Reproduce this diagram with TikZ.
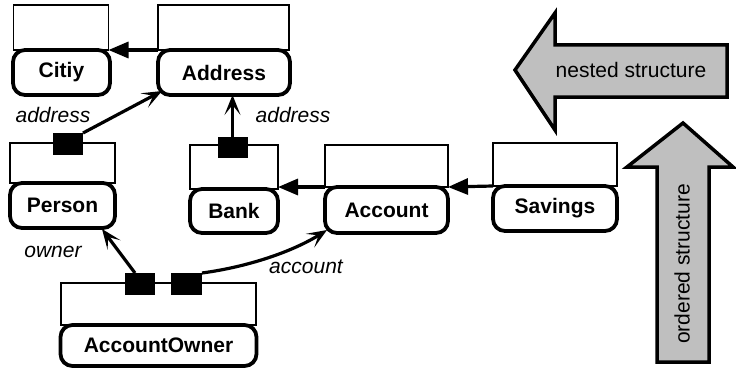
\documentclass[tikz,border=0pt]{standalone}
\usepackage{fontspec}
\setmainfont{Liberation Sans}
\usetikzlibrary{arrows.meta,calc}
\begin{document}
\begin{tikzpicture}[x=1pt,y=-1pt,
  every node/.style={inner sep=0pt,outer sep=0pt},
  slot/.style={draw,line width=1.5pt,fill=white},
  cls/.style={draw,line width=3.8pt,rounded corners=12pt,fill=white,
    font=\fontsize{21}{25}\selectfont\bfseries},
  port/.style={fill=black,minimum width=30pt,minimum height=22pt},
  role/.style={font=\fontsize{21}{25}\selectfont\itshape},
  link/.style={line width=3.2pt},
  inherit/.style={link,-{Triangle[length=20pt,width=16pt]}},
  navto/.style={link,-{Stealth[length=20pt,width=16pt,inset=10pt]}},
  bigarrow/.style={draw,fill=black!25,line width=3.5pt,line join=miter},
  arrowtext/.style={font=\fontsize{21}{25}\selectfont}]
\useasboundingbox (0,0) rectangle (736,369);

% classes: attribute slot on top, name box below
\node[slot,minimum width=95pt,minimum height=45pt] (citiyT) at (61,27.5) {};
\node[cls,minimum width=97pt,minimum height=45pt] (citiy) at (61.5,72.5) {Citiy};

\node[slot,minimum width=131pt,minimum height=45pt] (addressT) at (223.5,27.5) {};
\node[cls,minimum width=132pt,minimum height=45pt] (address) at (224,72.5) {Address};

\node[slot,minimum width=105pt,minimum height=40pt] (personT) at (62.5,163) {};
\node[cls,minimum width=105pt,minimum height=45pt] (person) at (62.5,205.5) {Person};

\node[slot,minimum width=88pt,minimum height=44pt] (bankT) at (234,167) {};
\node[cls,minimum width=88pt,minimum height=44pt] (bank) at (234,211) {Bank};

\node[slot,minimum width=123pt,minimum height=42pt] (accountT) at (386.5,166) {};
\node[cls,minimum width=123pt,minimum height=46pt] (account) at (386.5,210) {Account};

\node[slot,minimum width=124pt,minimum height=43pt] (savingsT) at (555,164.5) {};
\node[cls,minimum width=124pt,minimum height=45pt] (savings) at (555,208.5) {Savings};

\node[slot,minimum width=195pt,minimum height=42pt] (ownerT) at (158.5,304) {};
\node[cls,minimum width=196pt,minimum height=41pt] (owner) at (158.5,345.5) {AccountOwner};

% association end ports
\node[port] (personPort) at (68,144) {};
\node[port,minimum height=21pt] (bankPort) at (232.5,147.5) {};
\node[port] (ownerL) at (140,284) {};
\node[port,minimum width=31pt] (ownerR) at (186.5,284) {};

% generalisations
\draw[inherit] (addressT.south west) -- (citiyT.south east);
\draw[inherit] (savingsT.south west) -- (accountT.south east);
\draw[inherit] (accountT.south west) -- (accountT.south west -| bankT.east);

% navigable associations
\draw[navto] (personPort.north east) -- ($(address.south west)+(4,-4)$);
\draw[navto] (bankPort.north) -- (bankPort.north |- address.south);
\draw[navto] ($(ownerL.north)+(-5,0)$) -- ($(person.south east)+(-13,1)$);
\draw[navto] (ownerR.north east) .. controls +(45,-6) and +(-35,22) .. ($(account.south west)+(2,-3)$);

% role names
\node[role] (r1) at (53,115) {address};
\node[role] (r2) at (293,115) {address};
\node[role] (r3) at (53,252) {owner};
\node[role] (r4) at (306,267) {account};

% structure arrows
\draw[bigarrow] (515,70) -- (555,13) -- (555,45) -- (727,45) -- (727,97)
  -- (555,97) -- (555,130) -- cycle;
\node[arrowtext] (nested) at (631,70) {nested structure};
\draw[bigarrow] (683,123) -- (733,167) -- (709,167) -- (709,362)
  -- (657,362) -- (657,167) -- (627,167) -- cycle;
\node[arrowtext,rotate=90] (ordered) at (682,264) {ordered structure};
\end{tikzpicture}
\end{document}
